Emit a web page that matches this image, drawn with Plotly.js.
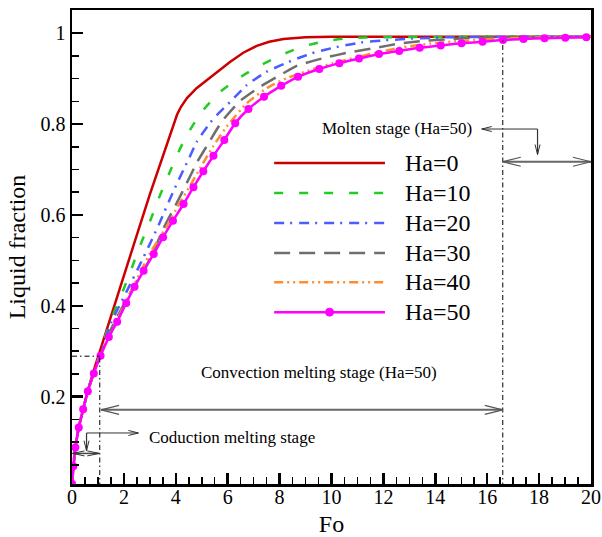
<!DOCTYPE html>
<html>
<head>
<meta charset="utf-8">
<script src="https://cdn.plot.ly/plotly-3.0.1.min.js"></script>
<style>html,body{margin:0;padding:0;background:#fff}#chart{width:602px;height:537px}</style>
</head>
<body>
<div id="chart"></div>
<script>
// ---- data ----
var seriesNames = ['Ha=0', 'Ha=10', 'Ha=20', 'Ha=30', 'Ha=40', 'Ha=50'];

var foHa0 = [0, 0.05, 0.13, 0.26, 0.43, 0.61, 0.84, 1.1, 1.5, 2.0, 2.5, 3.0, 3.5, 3.75, 3.9, 4.05, 4.2, 4.43, 4.8, 5.2, 5.6, 6.1, 6.6, 7.12, 7.6, 8.15, 9, 10, 12, 16, 20];
var lfHa0 = [0.008, 0.047, 0.088, 0.132, 0.172, 0.214, 0.258, 0.305, 0.38, 0.468, 0.556, 0.645, 0.73, 0.772, 0.797, 0.821, 0.838, 0.857, 0.879, 0.897, 0.915, 0.937, 0.957, 0.972, 0.981, 0.987, 0.991, 0.992, 0.992, 0.992, 0.992];

var foHa10 = [0, 0.05, 0.13, 0.26, 0.43, 0.61, 0.84, 1.1, 1.29, 1.61, 2.0, 2.32, 2.63, 3.02, 3.34, 3.72, 4.1, 4.43, 5.0, 5.71, 6.48, 7.25, 8.15, 8.92, 9.8, 10.7, 12, 16, 20];
var lfHa10 = [0.008, 0.047, 0.088, 0.132, 0.172, 0.213, 0.254, 0.298, 0.335, 0.384, 0.438, 0.486, 0.533, 0.588, 0.636, 0.688, 0.738, 0.776, 0.827, 0.871, 0.903, 0.929, 0.954, 0.971, 0.983, 0.989, 0.991, 0.992, 0.992];

var foHa20 = [0, 0.05, 0.13, 0.26, 0.43, 0.61, 0.84, 1.1, 1.5, 2.18, 2.57, 2.95, 3.34, 3.72, 4.11, 4.49, 4.82, 5.45, 6.1, 6.74, 7.5, 8.53, 9.43, 10.33, 11.2, 12.25, 13.1, 14.5, 17, 20];
var lfHa20 = [0.008, 0.047, 0.088, 0.132, 0.172, 0.213, 0.253, 0.296, 0.362, 0.44, 0.485, 0.53, 0.578, 0.628, 0.677, 0.722, 0.762, 0.812, 0.849, 0.886, 0.915, 0.941, 0.959, 0.971, 0.98, 0.985, 0.988, 0.991, 0.992, 0.992];

var foHa30 = [0, 0.05, 0.13, 0.26, 0.43, 0.61, 0.84, 1.1, 1.6, 2.32, 2.76, 3.15, 3.53, 4.0, 4.43, 4.82, 5.2, 5.78, 6.48, 7.25, 8.15, 8.66, 9.68, 10.7, 11.74, 12.6, 13.5, 14.6, 15.6, 17, 20];
var lfHa30 = [0.008, 0.047, 0.088, 0.132, 0.172, 0.212, 0.252, 0.293, 0.36, 0.437, 0.476, 0.521, 0.571, 0.622, 0.671, 0.716, 0.752, 0.806, 0.851, 0.882, 0.912, 0.928, 0.945, 0.958, 0.968, 0.977, 0.983, 0.987, 0.99, 0.991, 0.992];

var foHa40 = [0, 0.05, 0.13, 0.26, 0.43, 0.61, 0.84, 1.1, 1.6, 2.3, 3.0, 3.66, 4.11, 4.56, 4.94, 5.45, 5.97, 6.74, 7.5, 8.28, 9.3, 10.07, 10.97, 11.87, 12.76, 13.8, 14.8, 15.8, 17, 18.5, 20];
var lfHa40 = [0.008, 0.047, 0.088, 0.132, 0.172, 0.212, 0.251, 0.292, 0.352, 0.435, 0.515, 0.576, 0.622, 0.665, 0.703, 0.752, 0.795, 0.846, 0.879, 0.901, 0.921, 0.934, 0.947, 0.959, 0.969, 0.977, 0.982, 0.986, 0.989, 0.991, 0.992];

var foHa50 = [0, 0.05, 0.13, 0.26, 0.43, 0.61, 0.84, 1.10, 1.42, 1.74, 2.09, 2.41, 2.76, 3.15, 3.51, 3.89, 4.30, 4.68, 5.06, 5.45, 5.87, 6.29, 6.80, 7.40, 8.06, 8.71, 9.53, 10.30, 11.06, 11.83, 12.61, 13.40, 14.21, 15.01, 15.82, 16.61, 17.40, 18.21, 19.01, 19.82];
var lfHa50 = [0.008, 0.047, 0.088, 0.132, 0.172, 0.212, 0.251, 0.290, 0.331, 0.365, 0.406, 0.442, 0.477, 0.514, 0.551, 0.587, 0.624, 0.661, 0.696, 0.730, 0.765, 0.802, 0.833, 0.860, 0.884, 0.904, 0.921, 0.934, 0.944, 0.954, 0.961, 0.968, 0.973, 0.978, 0.981, 0.985, 0.987, 0.989, 0.990, 0.991];

var xTickVals = [0, 2, 4, 6, 8, 10, 12, 14, 16, 18, 20];
var yTickVals = [0.2, 0.4, 0.6, 0.8, 1];
var yTickText = ['0.2', '0.4', '0.6', '0.8', '1'];

// stage markers (Fo values) and labels
var conductionEndFo = 1.07, conductionEndLf = 0.289;
var convectionEndFo = 16.6, convectionEndLf = 0.985;
var stageLabels = ['Coduction melting stage', 'Convection melting stage (Ha=50)', 'Molten stage (Ha=50)'];

// ---- styles ----
var SERIF = 'Liberation Serif';
var colors = ['#cc0000', '#22cc22', '#4d5cff', '#6e6e6e', '#ff8c2e', '#ff00ff'];
var dashes = ['solid', '9px,16px', '10px,6px,2px,7px', '16px,9px', '9px,4px,2px,4px,2px,4px', 'solid'];
var xs = [foHa0, foHa10, foHa20, foHa30, foHa40, foHa50];
var ys = [lfHa0, lfHa10, lfHa20, lfHa30, lfHa40, lfHa50];

var traces = [];
for (var i = 0; i < 6; i++) {
  var t = {
    x: xs[i], y: ys[i], name: seriesNames[i], type: 'scatter',
    mode: i === 5 ? 'lines+markers' : 'lines',
    line: {color: colors[i], width: 2.5, dash: dashes[i], shape: i === 0 ? 'linear' : 'spline', smoothing: 0.5},
    showlegend: false
  };
  if (i === 5) t.marker = {color: colors[i], size: 8, symbol: 'circle'};
  traces.push(t);
}

var shapes = [];
var annotations = [];

function line(x0, y0, x1, y1, color, width, dash) {
  shapes.push({type: 'line', xref: 'x', yref: 'y', x0: x0, y0: y0, x1: x1, y1: y1,
    line: {color: color, width: width, dash: dash || 'solid'}});
}
function head(x, y, dir, len, half, color, width) {
  var p;
  if (dir === 'left') p = 'M' + len + ',' + half + ' L0,0 L' + len + ',' + (-half);
  else if (dir === 'right') p = 'M' + (-len) + ',' + half + ' L0,0 L' + (-len) + ',' + (-half);
  else p = 'M' + (-half) + ',' + len + ' L0,0 L' + half + ',' + len; // down
  shapes.push({type: 'path', xref: 'x', yref: 'y', xsizemode: 'pixel', ysizemode: 'pixel',
    xanchor: x, yanchor: y, path: p, line: {color: color, width: width}});
}

// dash-dot guide lines
var DD = '5px,3px,1.5px,3px';
line(convectionEndFo, 0, convectionEndFo, convectionEndLf, '#000', 1, DD);
line(conductionEndFo, 0, conductionEndFo, conductionEndLf, '#000', 1, DD);
line(0, conductionEndLf, conductionEndFo, conductionEndLf, '#000', 1, DD);

// convection double arrow
var convY = 0.171;
line(conductionEndFo + 0.05, convY, convectionEndFo, convY, '#666', 2);
head(conductionEndFo + 0.05, convY, 'left', 18, 4.5, '#555', 1.2);
head(convectionEndFo, convY, 'right', 18, 4.5, '#555', 1.2);

// molten double arrow + elbow
var moltY = 0.717;
line(convectionEndFo, moltY, 20, moltY, '#666', 2);
head(convectionEndFo, moltY, 'left', 18, 4.5, '#555', 1.2);
head(20, moltY, 'right', 18, 4.5, '#555', 1.2);
line(15.79, 0.789, 17.94, 0.789, '#333', 1);
line(17.94, 0.789, 17.94, 0.733, '#333', 1.2);
head(15.79, 0.789, 'left', 10, 2.5, '#333', 1);
head(17.94, 0.733, 'down', 10, 2.5, '#333', 1);

// conduction double arrow + elbow
var condY = 0.075;
line(0.02, condY, conductionEndFo - 0.02, condY, '#444', 1.5);
head(0.02, condY, 'left', 12, 2.5, '#333', 1);
head(conductionEndFo - 0.02, condY, 'right', 12, 2.5, '#333', 1);
line(0.56, 0.120, 2.56, 0.120, '#333', 1);
line(0.56, 0.120, 0.56, 0.081, '#333', 1.2);
head(2.56, 0.120, 'right', 10, 2.5, '#333', 1);
head(0.56, 0.081, 'down', 10, 2.5, '#333', 1);

// stage labels
annotations.push({x: 2.9, y: 0.110, xref: 'x', yref: 'y', text: stageLabels[0], showarrow: false,
  xanchor: 'left', yanchor: 'middle', font: {family: SERIF, size: 17, color: '#000'}});
annotations.push({x: 9.5, y: 0.254, xref: 'x', yref: 'y', text: stageLabels[1], showarrow: false,
  xanchor: 'center', yanchor: 'middle', font: {family: SERIF, size: 17, color: '#000'}});
annotations.push({x: 15.5, y: 0.791, xref: 'x', yref: 'y', text: stageLabels[2], showarrow: false,
  xanchor: 'right', yanchor: 'middle', font: {family: SERIF, size: 17, color: '#000'}});

// custom legend
var legX0 = 7.79, legX1 = 12.06, legTextX = 12.75;
var legRows = [0.714, 0.648, 0.582, 0.516, 0.452, 0.386];
for (var k = 0; k < 6; k++) {
  line(legX0, legRows[k], legX1, legRows[k], colors[k], 2.5, dashes[k]);
  annotations.push({x: legTextX, y: legRows[k], xref: 'x', yref: 'y', text: seriesNames[k], showarrow: false,
    xanchor: 'left', yanchor: 'middle', font: {family: SERIF, size: 24, color: '#000'}});
}
shapes.push({type: 'circle', xref: 'x', yref: 'y', xsizemode: 'pixel', ysizemode: 'pixel',
  xanchor: (legX0 + legX1) / 2, yanchor: legRows[5], x0: -4, x1: 4, y0: -4, y1: 4,
  fillcolor: colors[5], line: {color: colors[5], width: 1}});

var layout = {
  width: 602, height: 537,
  margin: {l: 72, r: 11, t: 10, b: 53},
  paper_bgcolor: '#fff', plot_bgcolor: '#fff',
  showlegend: false,
  font: {family: SERIF, color: '#000'},
  xaxis: {
    range: [0, 20], tickvals: xTickVals, ticks: 'inside', ticklen: 11, tickwidth: 2.5, tickcolor: '#000',
    ticklabelstandoff: -7,
    minor: {dtick: 0.5, tick0: 0, ticks: 'inside', ticklen: 7, tickwidth: 1.5, tickcolor: '#000', showgrid: false},
    showline: true, linewidth: 2.5, linecolor: '#000', mirror: true, showgrid: false, zeroline: false,
    tickfont: {family: SERIF, size: 20, color: '#000'},
    title: {text: 'Fo', font: {family: SERIF, size: 24, color: '#000'}, standoff: 9}
  },
  yaxis: {
    range: [0.0077, 1.051], tickvals: yTickVals, ticktext: yTickText, ticks: 'inside', ticklen: 11, tickwidth: 2.5, tickcolor: '#000',
    minor: {dtick: 0.05, tick0: 0, ticks: 'inside', ticklen: 7, tickwidth: 1.5, tickcolor: '#000', showgrid: false},
    showline: true, linewidth: 2.5, linecolor: '#000', mirror: true, showgrid: false, zeroline: false,
    tickfont: {family: SERIF, size: 20, color: '#000'},
    title: {text: 'Liquid fraction', font: {family: SERIF, size: 24, color: '#000'}, standoff: 8}
  },
  shapes: shapes,
  annotations: annotations
};

Plotly.newPlot('chart', traces, layout, {displayModeBar: false, staticPlot: true});
</script>
</body>
</html>
